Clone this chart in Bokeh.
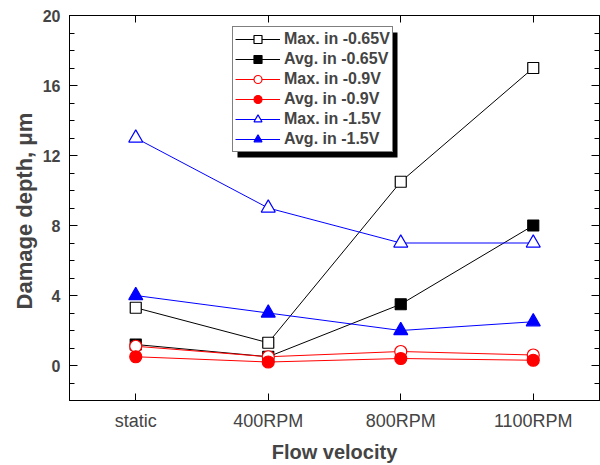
from bokeh.plotting import figure
from bokeh.models import (FactorRange, Range1d, LinearAxis, CategoricalAxis,
                          SingleIntervalTicker, Legend, LegendItem, BoxAnnotation)
from bokeh.embed import file_html
from bokeh.resources import INLINE

# Flow velocity categories
velocities = ["static", "400RPM", "800RPM", "1100RPM"]

# Damage depth (um) for each applied potential
max_065 = [3.3, 1.3, 10.5, 17.0]
avg_065 = [1.2, 0.5, 3.5, 8.0]
max_09 = [1.1, 0.5, 0.8, 0.6]
avg_09 = [0.5, 0.2, 0.4, 0.3]
max_15 = [13.0, 9.0, 7.0, 7.0]
avg_15 = [4.0, 3.0, 2.0, 2.5]

FONT = "Liberation Sans"

p = figure(width=600, height=465,
           x_range=FactorRange(*velocities, range_padding=0),
           y_range=Range1d(-2, 20),
           output_backend="svg", toolbar_location=None,
           min_border_left=69, min_border_right=1,
           min_border_top=15, min_border_bottom=63)
p.xgrid.visible = False
p.ygrid.visible = False
p.outline_line_color = "black"
p.outline_line_width = 1
p.background_fill_color = "white"
p.border_fill_color = "white"

yticker = SingleIntervalTicker(interval=4, num_minor_ticks=4)

# left axis
ya = p.yaxis[0]
ya.ticker = yticker
ya.axis_label = "Damage depth,  \u03bcm"
ya.axis_label_text_font = FONT
ya.axis_label_text_font_style = "bold"
ya.axis_label_text_font_size = "22px"
ya.axis_label_standoff = 3
ya.major_label_text_font = FONT
ya.major_label_text_font_style = "bold"
ya.major_label_text_font_size = "16px"
ya.major_label_standoff = 9
ya.major_tick_in = 8
ya.major_tick_out = 0
ya.minor_tick_in = 5
ya.minor_tick_out = 0
ya.axis_line_color = "black"

# bottom axis
xa = p.xaxis[0]
xa.axis_label = "Flow velocity"
xa.axis_label_text_font = FONT
xa.axis_label_text_font_style = "bold"
xa.axis_label_text_font_size = "20px"
xa.axis_label_standoff = 7
xa.major_label_text_font = FONT
xa.major_label_text_font_size = "18px"
xa.major_label_standoff = 10
xa.major_tick_in = 7
xa.major_tick_out = 0

# mirrored axes on top and right, ticks only
top = CategoricalAxis(major_label_text_color=None, major_label_text_font_size="0px",
                      major_label_standoff=0, major_tick_in=7, major_tick_out=0)
p.add_layout(top, "above")
right = LinearAxis(ticker=yticker, major_label_text_color=None,
                   major_label_text_font_size="0px", major_label_standoff=0,
                   major_tick_in=8, major_tick_out=0,
                   minor_tick_in=5, minor_tick_out=0)
p.add_layout(right, "right")

series = [
    ("Max. in -0.65V", max_065, "black", "square", "white", 11),
    ("Avg. in -0.65V", avg_065, "black", "square", "black", 11),
    ("Max. in -0.9V", max_09, "red", "circle", "white", 12),
    ("Avg. in -0.9V", avg_09, "red", "circle", "red", 12),
    ("Max. in -1.5V", max_15, "blue", "triangle", "white", 14),
    ("Avg. in -1.5V", avg_15, "blue", "triangle", "blue", 14),
]

items = []
for label, vals, color, marker, fill, size in series:
    lr = p.line(velocities, vals, line_color=color, line_width=1)
    sr = p.scatter(velocities, vals, marker=marker, size=size,
                   line_color=color, fill_color=fill, line_width=1.2)
    items.append(LegendItem(label=label, renderers=[lr, sr]))

# drop shadow behind the legend box
shadow = BoxAnnotation(left=237, right=397, top=32, bottom=157,
                       left_units="canvas", right_units="canvas",
                       top_units="canvas", bottom_units="canvas",
                       fill_color="black", fill_alpha=1, line_color=None)
p.add_layout(shadow)

legend = Legend(items=items, location=(163, 248),
                border_line_color="black", border_line_width=1,
                background_fill_color="white", background_fill_alpha=1,
                label_text_font=FONT, label_text_font_style="bold",
                label_text_font_size="16px",
                glyph_width=45, glyph_height=20, label_height=20,
                label_standoff=4, spacing=0, padding=2, margin=0)
p.add_layout(legend, "center")

open("out.html", "w").write(file_html(p, INLINE))
